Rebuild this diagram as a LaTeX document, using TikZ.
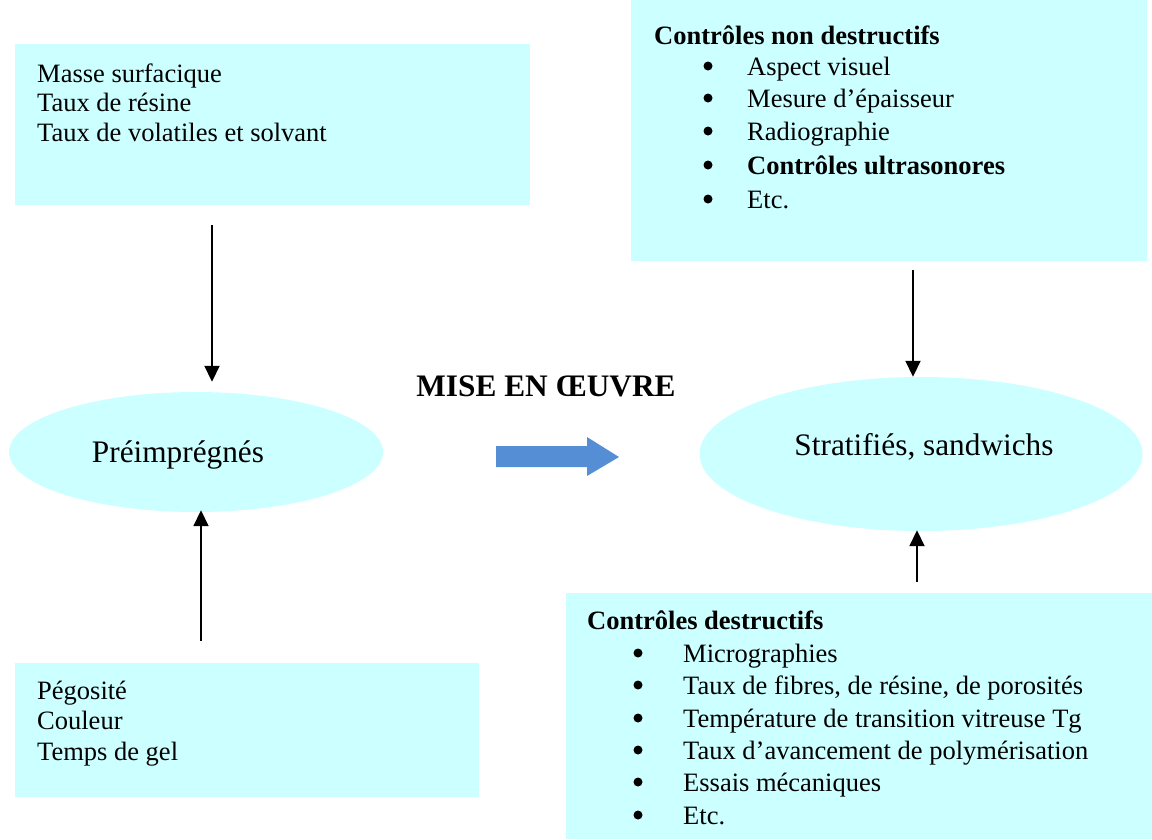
\documentclass[tikz,border=0pt]{standalone}
\usepackage{fontspec}
\setmainfont{Liberation Serif}
\usetikzlibrary{arrows.meta,shapes.geometric}
\definecolor{boxcyan}{HTML}{CCFFFF}
\definecolor{flowblue}{HTML}{558ED5}
\tikzset{
  box/.style={fill=boxcyan,draw=none,rectangle,inner sep=0pt},
  oval/.style={fill=boxcyan,draw=none,ellipse,inner sep=0pt},
  txt/.style={anchor=base west,inner sep=0pt,font=\fontsize{26.5}{30}\selectfont},
  btxt/.style={txt,font=\fontsize{26.5}{30}\selectfont\bfseries},
  bigtxt/.style={anchor=base,inner sep=0pt,font=\fontsize{31.3}{36}\selectfont},
  bul/.style={circle,fill=black,inner sep=0pt,minimum size=9pt},
  arr/.style={line width=1.8pt,-{Triangle[width=15pt,length=16pt]}}
}
\begin{document}
\begin{tikzpicture}[x=1pt,y=-1pt]
\useasboundingbox (0,0) rectangle (1152,839);
% boxes
\node[box,minimum width=515pt,minimum height=161pt] (tl) at (272.5,124.5) {};
\node[box,minimum width=516pt,minimum height=261pt] (tr) at (889,130.5) {};
\node[box,minimum width=464pt,minimum height=134pt] (bl) at (247,730) {};
\node[box,minimum width=586pt,minimum height=246pt] (br) at (859,716) {};
% ellipses
\node[oval,minimum width=374pt,minimum height=120pt] (pre) at (196,452) {};
\node[oval,minimum width=443pt,minimum height=154pt] (strat) at (921,454) {};
\node[bigtxt] (pretxt) at (178,462) {Préimprégnés};
\node[bigtxt] (strattxt) at (924,455) {Stratifiés, sandwichs};
% top-left text
\node[txt] (tl1) at (37,82) {Masse surfacique};
\node[txt] (tl2) at (37,111) {Taux de résine};
\node[txt] (tl3) at (37,141) {Taux de volatiles et solvant};
% bottom-left text
\node[txt] (bl1) at (37,699) {Pégosité};
\node[txt] (bl2) at (37,729) {Couleur};
\node[txt] (bl3) at (37,760) {Temps de gel};
% top-right text
\node[btxt] (trt) at (654,44) {Contrôles non destructifs};
\foreach \y/\t [count=\i] in {75/{Aspect visuel},107/{Mesure d’épaisseur},140/{Radiographie},174/{\bfseries Contrôles ultrasonores},208/{Etc.}}{
  \node[bul] (trb\i) at (708,\y-9) {};
  \node[txt] (tri\i) at (747,\y) {\t};
}
% bottom-right text
\node[btxt] (brt) at (587,629) {Contrôles destructifs};
\foreach \y/\t [count=\i] in {662/{Micrographies},694/{Taux de fibres, de résine, de porosités},727/{Température de transition vitreuse Tg},759/{Taux d’avancement de polymérisation},791/{Essais mécaniques},824/{Etc.}}{
  \node[bul] (brb\i) at (638,\y-9) {};
  \node[txt] (bri\i) at (683,\y) {\t};
}
% title
\node[bigtxt,font=\fontsize{31.3}{36}\selectfont\bfseries] (mise) at (546,396) {MISE EN ŒUVRE};
% blue block arrow
\fill[flowblue] (496,446) -- (587,446) -- (587,437) -- (619,457) -- (587,476) -- (587,467) -- (496,467) -- cycle;
% connectors
\draw[arr] ([xshift=-60.5pt,yshift=-20pt]tl.south) -- ([xshift=16pt,yshift=10pt]pre.north);
\draw[arr] ([xshift=-46pt,yshift=22pt]bl.north) -- ([xshift=5pt,yshift=2pt]pre.south);
\draw[arr] ([xshift=24pt,yshift=-9pt]tr.south) -- ([xshift=-8pt]strat.north);
\draw[arr] ([xshift=58pt,yshift=11pt]br.north) -- ([xshift=-4pt,yshift=1pt]strat.south);
\end{tikzpicture}
\end{document}
